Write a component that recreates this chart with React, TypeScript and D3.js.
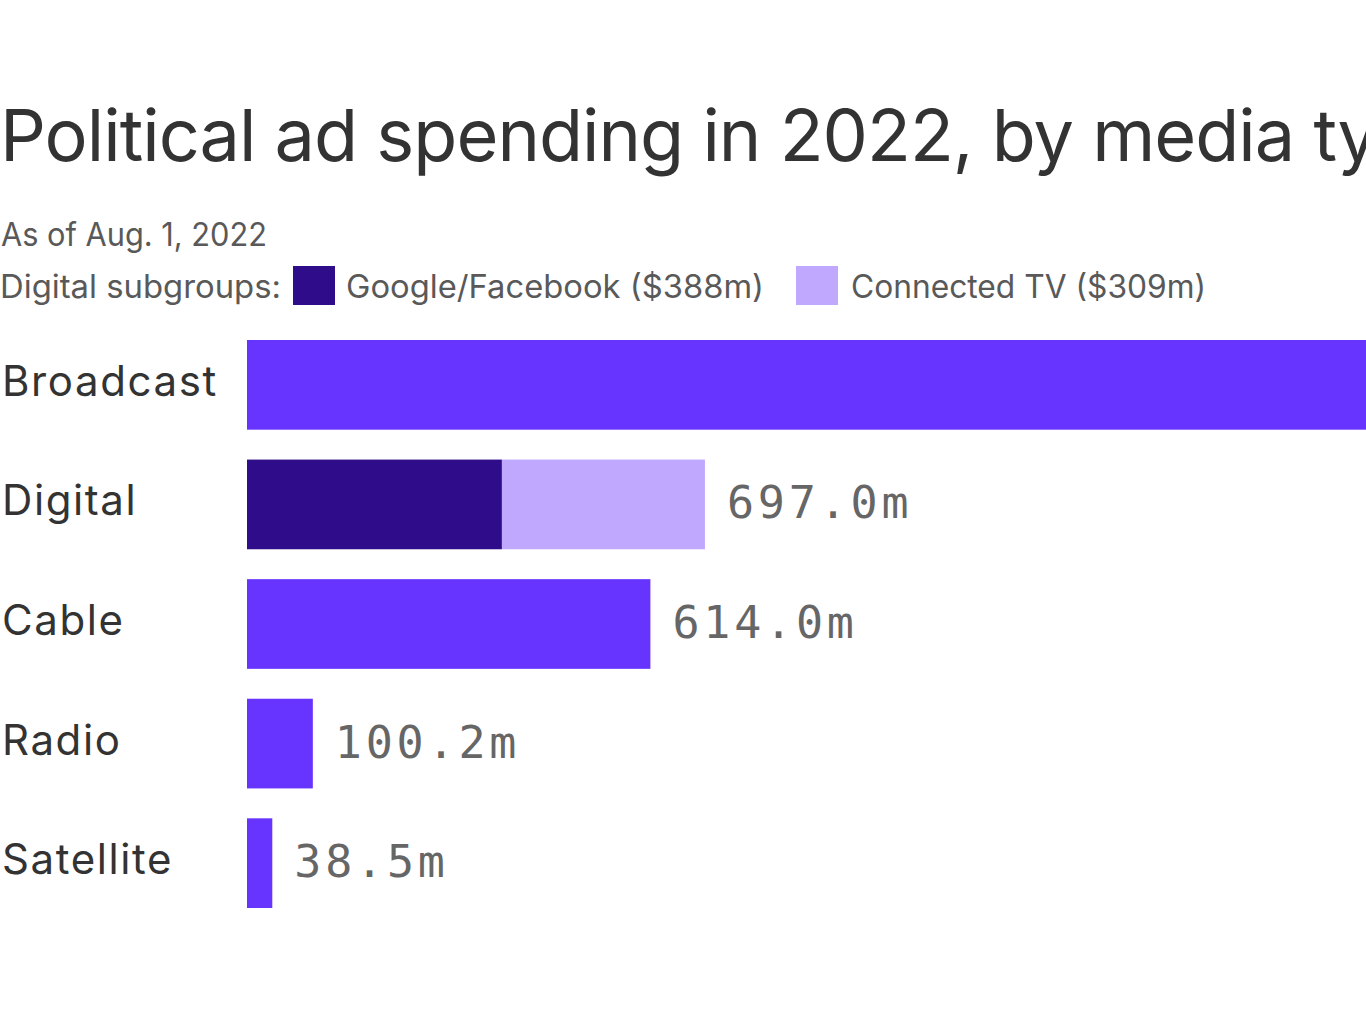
import React from "react";
import * as d3 from "d3";

const categories = ["Broadcast", "Digital", "Cable", "Radio", "Satellite"];
const totals = [2176.0, 697.0, 614.0, 100.2, 38.5];
const digitalSubgroups = ["Google/Facebook", "Connected TV"];
const digitalValues = [388, 309];
const valueLabels = ["2,176.0m", "697.0m", "614.0m", "100.2m", "38.5m"];

const W = 1366;
const H = 1024;
const MAIN = "#6633ff";
const DARK = "#2f0c8a";
const LIGHT = "#c0a8ff";
const TEXT = "#333333";
const SUB = "#595959";
const VAL = "#666666";
const SANS = "Inter, 'Liberation Sans', sans-serif";
const MONO = "'DejaVu Sans Mono', 'Liberation Mono', monospace";

export default function App() {
  const x = d3.scaleLinear().domain([0, 1000]).range([247, 247 + 657]);
  const y = d3.scaleBand<string>().domain(categories).range([340, 908]).paddingInner(0.25).paddingOuter(0);
  const bw = y.bandwidth();

  const stack = d3.cumsum(digitalValues);
  const subColors = [DARK, LIGHT];

  return (
    <svg
      width={W}
      height={H}
      viewBox={`0 0 ${W} ${H}`}
      style={{ position: "absolute", left: 0, top: 0, display: "block", background: "#fff" }}
    >
      <rect x={0} y={0} width={W} height={H} fill="#fff" />
      <text x={0} y={161} fontFamily={SANS} fontSize={72} fill={TEXT} letterSpacing={-1.0}>
        Political ad spending in 2022, by media type
      </text>
      <text x={1} y={246} fontFamily={SANS} fontSize={32} fill={SUB} textLength={266} lengthAdjust="spacingAndGlyphs">
        As of Aug. 1, 2022
      </text>
      <text x={0} y={298} fontFamily={SANS} fontSize={32} fill={SUB} textLength={281} lengthAdjust="spacingAndGlyphs">
        Digital subgroups:
      </text>
      <rect x={293} y={266} width={42} height={39} fill={DARK} />
      <text x={346} y={298} fontFamily={SANS} fontSize={32} fill={SUB} textLength={418} lengthAdjust="spacingAndGlyphs">
        {`${digitalSubgroups[0]} ($${digitalValues[0]}m)`}
      </text>
      <rect x={796} y={266} width={42} height={39} fill={LIGHT} />
      <text x={851} y={298} fontFamily={SANS} fontSize={32} fill={SUB} textLength={355} lengthAdjust="spacingAndGlyphs">
        {`${digitalSubgroups[1]} ($${digitalValues[1]}m)`}
      </text>

      {categories.map((c, i) => {
        const y0 = y(c)!;
        return (
          <g key={c}>
            <text x={2} y={y0 + bw / 2 + 11} fontFamily={SANS} fontSize={42} fill={TEXT} letterSpacing={1.6}>
              {c}
            </text>
            {c === "Digital" ? (
              digitalValues.map((v, j) => (
                <rect
                  key={j}
                  x={x(stack[j] - v)}
                  y={y0}
                  width={x(stack[j]) - x(stack[j] - v)}
                  height={bw}
                  fill={subColors[j]}
                />
              ))
            ) : (
              <rect x={x(0)} y={y0} width={x(totals[i]) - x(0)} height={bw} fill={MAIN} />
            )}
            <text
              x={x(totals[i]) + 22}
              y={y0 + bw / 2 + 14}
              fontFamily={MONO}
              fontSize={45}
              fill={VAL}
              letterSpacing={3.8}
            >
              {valueLabels[i]}
            </text>
          </g>
        );
      })}
    </svg>
  );
}
